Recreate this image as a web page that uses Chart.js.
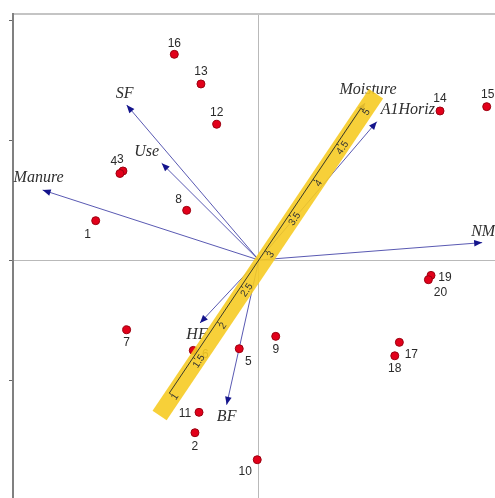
<!DOCTYPE html>
<html>
<head>
<meta charset="utf-8">
<script src="https://cdn.jsdelivr.net/npm/chart.js@4"></script>
<style>
  html, body { margin: 0; padding: 0; background: #fff; overflow: hidden; }
  #wrap { width: 495px; height: 498px; }
</style>
</head>
<body>
<div id="wrap"><canvas id="biplot" width="495" height="498"></canvas></div>
<script>
// site scores (axis 1, axis 2)
const siteNames = ['1', '2', '3', '4', '5', '6', '7', '8', '9', '10',
                   '11', '12', '13', '14', '15', '16', '17', '18', '19', '20'];
const siteX = [-1.359, -0.532, -1.132, -1.157, -0.163, -0.546, -1.101, -0.601, 0.141, -0.013,
               -0.498, -0.351, -0.482, 1.510, 1.899, -0.704, 1.171, 1.133, 1.435, 1.413];
const siteY = [0.328, -1.439, 0.742, 0.721, -0.739, -0.753, -0.581, 0.414, -0.636, -1.664,
               -1.269, 1.131, 1.467, 1.242, 1.278, 1.714, -0.686, -0.798, -0.128, -0.164];

// environmental variable arrows
const envNames = ['Manure', 'SF', 'Use', 'Moisture', 'A1Horiz', 'NM', 'HF', 'BF'];
const envX = [-1.801, -1.101, -0.809, 0.885, 0.983, 1.861, -0.490, -0.268];
const envY = [0.583, 1.292, 0.806, 1.308, 1.153, 0.145, -0.525, -1.206];

// calibrated axis for Moisture
const moistureTicks = [1, 1.5, 2, 2.5, 3, 3.5, 4, 4.5, 5];
const moistureLow = { value: 1, x: -0.746, y: -1.109 };
const moistureHigh = { value: 5, x: 0.850, y: 1.264 };
const moistureBand = [0.72, 5.24];

const yTickValues = [-1, 0, 1, 2];

// label placement, in pixels from the mark
const siteLabelPos = {
  '1': [-8, 14], '2': [0, 14], '3': [-2.5, -11], '4': [-6, -12], '5': [9, 13],
  '6': [12, 4], '7': [0, 13], '8': [-8, -11], '9': [0, 13], '10': [-12, 12],
  '11': [-14, 1], '12': [0, -12], '13': [0, -12], '14': [0, -12], '15': [1, -12],
  '16': [0, -11], '17': [12, 12], '18': [0, 13], '19': [14, 2], '20': [12, 13]
};
const envLabelPos = {
  'Manure': [-4, -12], 'SF': [-2, -11], 'Use': [-15, -11], 'Moisture': [3, -13],
  'A1Horiz': [31, -12], 'NM': [1, -11], 'HF': [-3, 12], 'BF': [0, 12]
};

function lerpMoisture(v) {
  const t = (v - moistureLow.value) / (moistureHigh.value - moistureLow.value);
  return {
    x: moistureLow.x + t * (moistureHigh.x - moistureLow.x),
    y: moistureLow.y + t * (moistureHigh.y - moistureLow.y)
  };
}

function arrowHead(ctx, x0, y0, x1, y1) {
  const a = Math.atan2(y1 - y0, x1 - x0);
  const len = 8, hw = 3.3;
  ctx.beginPath();
  ctx.moveTo(x1, y1);
  ctx.lineTo(x1 - len * Math.cos(a) + hw * Math.sin(a), y1 - len * Math.sin(a) - hw * Math.cos(a));
  ctx.lineTo(x1 - len * Math.cos(a) - hw * Math.sin(a), y1 - len * Math.sin(a) + hw * Math.cos(a));
  ctx.closePath();
  ctx.fill();
}

const biplotPlugin = {
  id: 'biplot',
  beforeDatasetsDraw(chart) {
    const ctx = chart.ctx;
    const xs = chart.scales.x, ys = chart.scales.y;
    const ox = xs.getPixelForValue(0), oy = ys.getPixelForValue(0);
    ctx.save();
    for (let i = 0; i < envNames.length; i++) {
      const tx = xs.getPixelForValue(envX[i]);
      const ty = ys.getPixelForValue(envY[i]);
      ctx.strokeStyle = 'rgba(60, 60, 165, 0.85)';
      ctx.lineWidth = 1;
      ctx.beginPath();
      ctx.moveTo(ox, oy);
      ctx.lineTo(tx, ty);
      ctx.stroke();
      ctx.fillStyle = '#14148c';
      arrowHead(ctx, ox, oy, tx, ty);
    }
    ctx.restore();
  },
  afterDatasetsDraw(chart) {
    const ctx = chart.ctx;
    const xs = chart.scales.x, ys = chart.scales.y;
    ctx.save();

    // site labels
    ctx.font = '12px "Liberation Sans", Arial, sans-serif';
    ctx.fillStyle = '#2a2a2a';
    ctx.textAlign = 'center';
    ctx.textBaseline = 'middle';
    for (let i = 0; i < siteNames.length; i++) {
      const off = siteLabelPos[siteNames[i]];
      ctx.fillText(siteNames[i],
        xs.getPixelForValue(siteX[i]) + off[0],
        ys.getPixelForValue(siteY[i]) + off[1]);
    }

    // arrow labels
    ctx.font = 'italic 16px "Liberation Serif", "Times New Roman", serif';
    ctx.fillStyle = '#2e2e2e';
    for (let i = 0; i < envNames.length; i++) {
      const off = envLabelPos[envNames[i]];
      ctx.fillText(envNames[i],
        xs.getPixelForValue(envX[i]) + off[0],
        ys.getPixelForValue(envY[i]) + off[1]);
    }

    // Moisture calibrated axis
    const p1 = lerpMoisture(moistureLow.value), p5 = lerpMoisture(moistureHigh.value);
    const ax = xs.getPixelForValue(p5.x) - xs.getPixelForValue(p1.x);
    const ay = ys.getPixelForValue(p5.y) - ys.getPixelForValue(p1.y);
    const al = Math.hypot(ax, ay);
    const ux = ax / al, uy = ay / al;
    const nx = -uy, ny = ux;  // right-hand side of the axis
    const angle = Math.atan2(uy, ux);

    const b0 = lerpMoisture(moistureBand[0]), b1 = lerpMoisture(moistureBand[1]);
    const shift = 4.5;
    ctx.strokeStyle = 'rgba(246, 203, 36, 0.9)';
    ctx.lineWidth = 17;
    ctx.lineCap = 'butt';
    ctx.beginPath();
    ctx.moveTo(xs.getPixelForValue(b0.x) + nx * shift, ys.getPixelForValue(b0.y) + ny * shift);
    ctx.lineTo(xs.getPixelForValue(b1.x) + nx * shift, ys.getPixelForValue(b1.y) + ny * shift);
    ctx.stroke();

    ctx.strokeStyle = '#3a3a2a';
    ctx.lineWidth = 1;
    ctx.beginPath();
    ctx.moveTo(xs.getPixelForValue(p1.x), ys.getPixelForValue(p1.y));
    ctx.lineTo(xs.getPixelForValue(p5.x), ys.getPixelForValue(p5.y));
    ctx.stroke();

    ctx.font = '10px "Liberation Sans", Arial, sans-serif';
    ctx.fillStyle = '#333';
    moistureTicks.forEach(v => {
      const p = lerpMoisture(v);
      const px = xs.getPixelForValue(p.x), py = ys.getPixelForValue(p.y);
      ctx.beginPath();
      ctx.moveTo(px, py);
      ctx.lineTo(px + nx * 2.5, py + ny * 2.5);
      ctx.stroke();
      ctx.save();
      ctx.translate(px + nx * 7, py + ny * 7);
      ctx.rotate(angle);
      ctx.textAlign = 'center';
      ctx.textBaseline = 'middle';
      ctx.fillText(String(v), 0, 0);
      ctx.restore();
    });

    ctx.restore();
  }
};

const zeroGrid = c => (c.tick && c.tick.value === 0) ? '#b9b9b9' : 'rgba(0,0,0,0)';

new Chart(document.getElementById('biplot'), {
  type: 'scatter',
  data: {
    datasets: [{
      data: siteX.map((x, i) => ({ x: x, y: siteY[i] })),
      pointRadius: 4,
      pointBackgroundColor: '#e2001a',
      pointBorderColor: '#9a0010',
      pointBorderWidth: 1
    }]
  },
  options: {
    responsive: false,
    animation: false,
    layout: { padding: 0, autoPadding: false },
    plugins: { legend: { display: false }, tooltip: { enabled: false } },
    scales: {
      x: {
        type: 'linear',
        position: 'top',
        min: -2.048,
        max: 1.968,
        ticks: { display: false, stepSize: 1, includeBounds: false },
        grid: { color: zeroGrid, lineWidth: 1, drawTicks: false },
        border: { display: true, color: '#c4c4c4', width: 2 },
        afterFit: s => { s.height = 14; }
      },
      y: {
        type: 'linear',
        position: 'left',
        min: -1.983,
        max: 2.05,
        afterBuildTicks: s => { s.ticks = yTickValues.map(v => ({ value: v })); },
        ticks: { display: false },
        grid: { color: zeroGrid, lineWidth: 1, drawTicks: true, tickLength: 4, tickColor: '#666' },
        border: { display: true, color: '#808080', width: 2 },
        afterFit: s => { s.width = 13; }
      }
    }
  },
  plugins: [biplotPlugin]
});
</script>
</body>
</html>
